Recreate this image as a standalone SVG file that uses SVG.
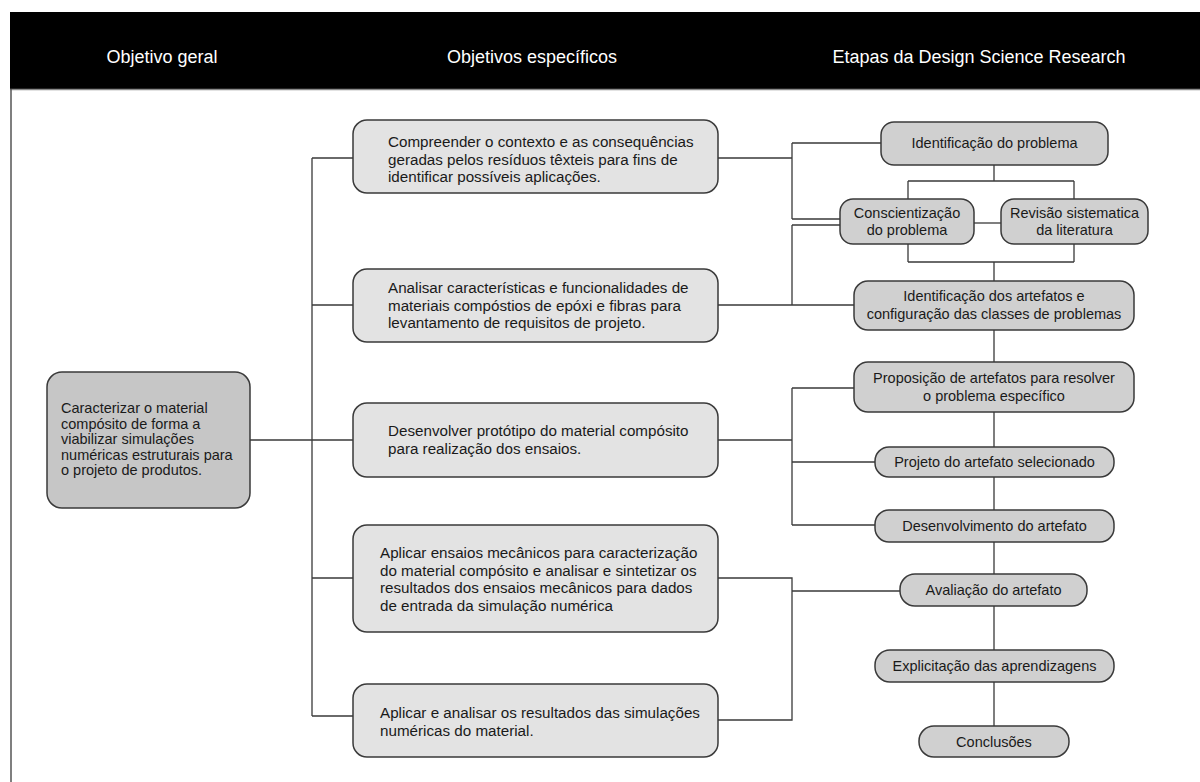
<svg xmlns="http://www.w3.org/2000/svg" width="1200" height="782" viewBox="0 0 1200 782">
<style>
.hdr{font-family:"Liberation Sans",Arial,sans-serif;font-size:18px;fill:#ffffff;text-anchor:middle}
.t{font-family:"Liberation Sans",Arial,sans-serif;fill:#1a1a1a}
.tm{font-size:15.2px}
.tl{font-size:14.5px}
.tr{font-size:14.5px;text-anchor:middle}
.bl{fill:#c6c6c6;stroke:#3a3a3a;stroke-width:1.5}
.bm{fill:#e3e3e3;stroke:#3a3a3a;stroke-width:1.5}
.br{fill:#d0d0d0;stroke:#3a3a3a;stroke-width:1.5}
.c{fill:none;stroke:#3a3a3a;stroke-width:1.3}
</style>
<rect x="0" y="0" width="1200" height="782" fill="#ffffff"/>
<g id="header">
<rect x="10" y="12" width="1190" height="77" fill="#000000"/>
<line x1="10" y1="89.5" x2="1200" y2="89.5" stroke="#8a8a8a" stroke-width="1.5"/>
<line x1="11" y1="89" x2="11" y2="782" stroke="#555555" stroke-width="1.5"/>
<text class="hdr" x="162" y="63">Objetivo geral</text>
<text class="hdr" x="532" y="63">Objetivos específicos</text>
<text class="hdr" x="979" y="63">Etapas da Design Science Research</text>
</g>
<g id="connectors">
<path class="c" d="M250,440 H353 M312,158 V716 M312,158 H353 M312,305 H353 M312,578 H353 M312,716 H353"/>
<path class="c" d="M718,158 H792 M792,143 V219 M792,143 H881 M792,219 H840"/>
<path class="c" d="M718,305 H854 M792,225 V305 M792,225 H840"/>
<path class="c" d="M994,165 V181 M908,181 H1074 M908,181 V199 M1074,181 V199"/>
<path class="c" d="M974,223 H1001"/>
<path class="c" d="M908,244 V262 M1074,244 V262 M908,262 H1074 M994,262 V281"/>
<path class="c" d="M994,330 V362 M994,412 V447 M994,477 V510 M994,542 V574 M994,606 V650 M994,682 V726"/>
<path class="c" d="M718,440 H792 M792,388 V525 M792,388 H854 M792,462 H875 M792,525 H875"/>
<path class="c" d="M718,578 H792 V720 H718 M792,591 H900"/>
</g>
<g id="n-geral">
<rect class="bl" x="47" y="372" width="203" height="136" rx="15"/>
<text class="t tl" x="61"><tspan x="61" y="413">Caracterizar o material</tspan><tspan x="61" y="428.5">compósito de forma a</tspan><tspan x="61" y="444">viabilizar simulações</tspan><tspan x="61" y="459.5">numéricas estruturais para</tspan><tspan x="61" y="475">o projeto de produtos.</tspan></text>
</g>
<g id="n-esp1">
<rect class="bm" x="353" y="120" width="365" height="73" rx="14"/>
<text class="t tm"><tspan x="388" y="147">Compreender o contexto e as consequências</tspan><tspan x="388" y="164.5">geradas pelos resíduos têxteis para fins de</tspan><tspan x="388" y="182">identificar possíveis aplicações.</tspan></text>
</g>
<g id="n-esp2">
<rect class="bm" x="353" y="269" width="365" height="73" rx="14"/>
<text class="t tm"><tspan x="388" y="293">Analisar características e funcionalidades de</tspan><tspan x="388" y="310.5">materiais compóstios de epóxi e fibras para</tspan><tspan x="388" y="328">levantamento de requisitos de projeto.</tspan></text>
</g>
<g id="n-esp3">
<rect class="bm" x="353" y="403" width="365" height="74" rx="14"/>
<text class="t tm"><tspan x="388" y="436">Desenvolver protótipo do material compósito</tspan><tspan x="388" y="454">para realização dos ensaios.</tspan></text>
</g>
<g id="n-esp4">
<rect class="bm" x="353" y="525" width="365" height="107" rx="14"/>
<text class="t tm"><tspan x="380" y="558">Aplicar ensaios mecânicos para caracterização</tspan><tspan x="380" y="575.5">do material compósito e analisar e sintetizar os</tspan><tspan x="380" y="593">resultados dos ensaios mecânicos para dados</tspan><tspan x="380" y="610.5">de entrada da simulação numérica</tspan></text>
</g>
<g id="n-esp5">
<rect class="bm" x="353" y="684" width="365" height="73" rx="14"/>
<text class="t tm"><tspan x="380" y="718">Aplicar e analisar os resultados das simulações</tspan><tspan x="380" y="735.5">numéricas do material.</tspan></text>
</g>
<g id="n-idprob">
<rect class="br" x="881" y="122" width="227" height="43" rx="13"/>
<text class="t tr" x="994.5" y="148">Identificação do problema</text>
</g>
<g id="n-consc">
<rect class="br" x="840" y="199" width="134" height="45" rx="13"/>
<text class="t tr"><tspan x="907" y="218">Conscientização</tspan><tspan x="907" y="235">do problema</tspan></text>
</g>
<g id="n-revisao">
<rect class="br" x="1001" y="199" width="147" height="45" rx="13"/>
<text class="t tr"><tspan x="1074.5" y="218">Revisão sistematica</tspan><tspan x="1074.5" y="235">da literatura</tspan></text>
</g>
<g id="n-idart">
<rect class="br" x="854" y="281" width="280" height="49" rx="14"/>
<text class="t tr"><tspan x="994" y="301">Identificação dos artefatos e</tspan><tspan x="994" y="319">configuração das classes de problemas</tspan></text>
</g>
<g id="n-propos">
<rect class="br" x="854" y="362" width="280" height="50" rx="14"/>
<text class="t tr"><tspan x="994" y="383">Proposição de artefatos para resolver</tspan><tspan x="994" y="401">o problema específico</tspan></text>
</g>
<g id="n-projeto">
<rect class="br" x="875" y="447" width="239" height="30" rx="14"/>
<text class="t tr" x="994.5" y="467">Projeto do artefato selecionado</text>
</g>
<g id="n-desenv">
<rect class="br" x="875" y="510" width="239" height="32" rx="14"/>
<text class="t tr" x="994.5" y="531">Desenvolvimento do artefato</text>
</g>
<g id="n-aval">
<rect class="br" x="900" y="574" width="187" height="32" rx="15"/>
<text class="t tr" x="993.5" y="595">Avaliação do artefato</text>
</g>
<g id="n-explic">
<rect class="br" x="875" y="650" width="239" height="32" rx="15"/>
<text class="t tr" x="994.5" y="671">Explicitação das aprendizagens</text>
</g>
<g id="n-concl">
<rect class="br" x="919" y="726" width="150" height="31" rx="15"/>
<text class="t tr" x="994" y="747">Conclusões</text>
</g>
</svg>
